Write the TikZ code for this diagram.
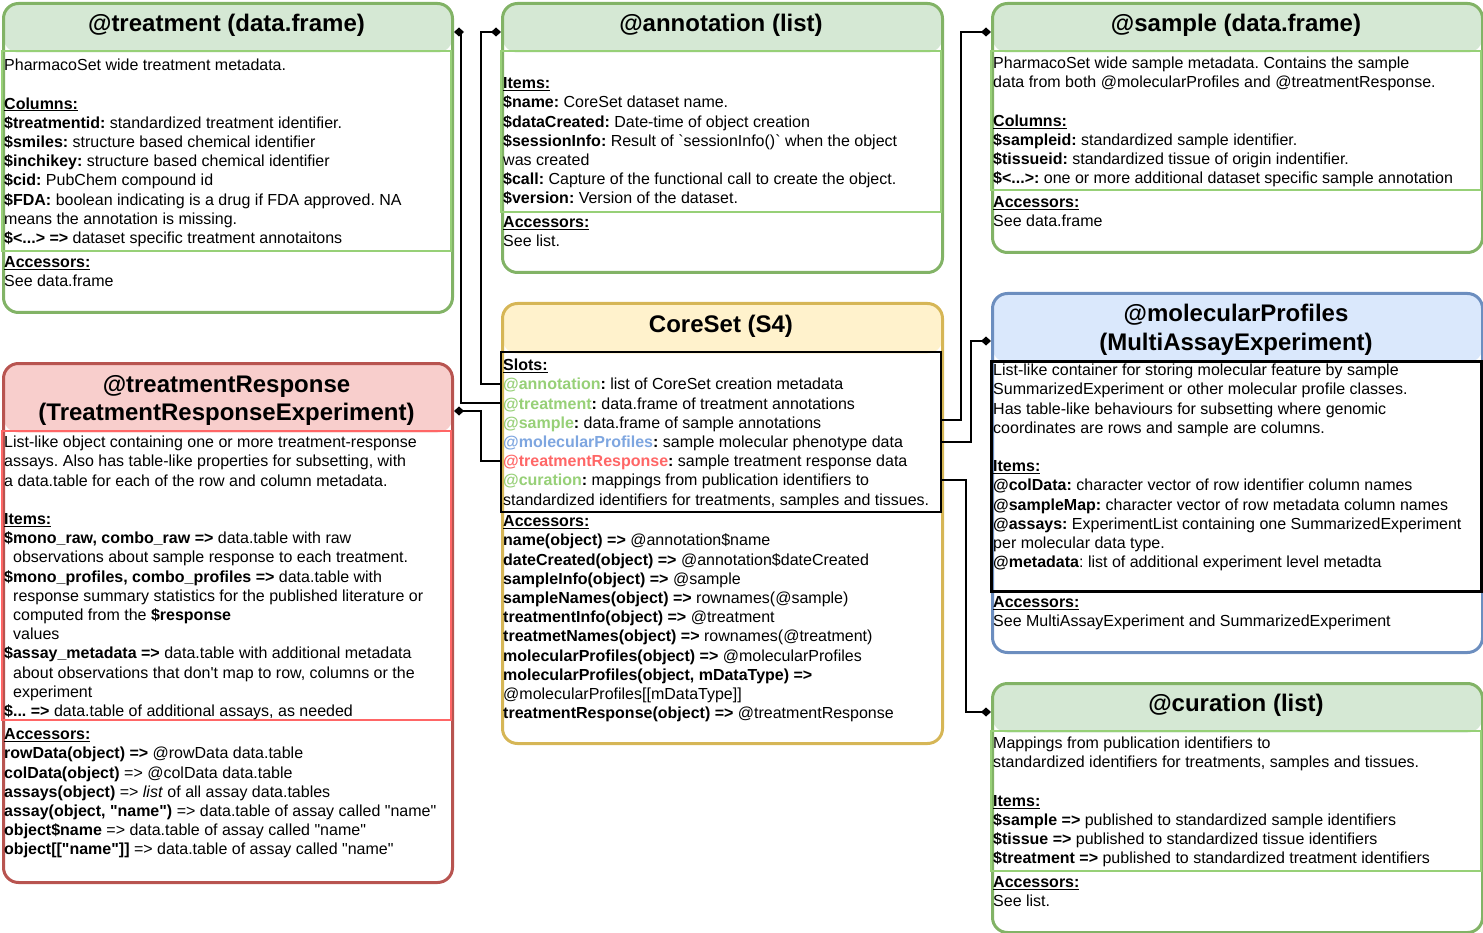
\documentclass[tikz,border=0pt]{standalone}
\usepackage{fontspec}
\setmainfont{Liberation Sans}
\usetikzlibrary{arrows.meta}
\usetikzlibrary{positioning}
\frenchspacing

\definecolor{greenline}{HTML}{82B366}
\definecolor{greenfill}{HTML}{D5E8D4}
\definecolor{greeninner}{HTML}{97D077}
\definecolor{yellowline}{HTML}{D6B656}
\definecolor{yellowfill}{HTML}{FFF2CC}
\definecolor{redline}{HTML}{B85450}
\definecolor{redfill}{HTML}{F8CECC}
\definecolor{redinner}{HTML}{FF6666}
\definecolor{blueline}{HTML}{6C8EBF}
\definecolor{bluefill}{HTML}{DAE8FC}
\definecolor{slotblue}{HTML}{7EA6E0}

\newcommand{\sect}[1]{\underline{\textbf{#1}}}
\newcommand{\qname}{\textquotedbl name\textquotedbl}

\tikzstyle{classbox} = [draw, rounded corners=15pt, line width=3pt, fill=white, anchor=north west, inner sep=0pt]
\tikzstyle{title}    = [font=\fontsize{24}{28.8}\selectfont\bfseries, align=center]
\tikzstyle{body}     = [anchor=north west, inner sep=0pt, align=left, font=\fontsize{16}{19.2}\selectfont]
\tikzstyle{inner}    = [line width=2.5pt]
\tikzstyle{link}     = [line width=2pt, -{Diamond[length=10pt,width=9pt]}]
\tikzset{header/.style 2 args={path picture={\fill[#1] (path picture bounding box.north west) rectangle ([yshift=-#2]path picture bounding box.north east);}}}

\begin{document}
\begin{tikzpicture}[x=1pt,y=-1pt]
  \useasboundingbox (0,0) rectangle (1483,933);

  % Treatment box
  \node[classbox, draw=greenline, header={greenfill}{49pt}, minimum width=449pt, minimum height=309pt] (treatment) at (2,2) {};
  \draw[inner, greeninner] (2,51) rectangle (451,251);
  \node[title] (treatmentTitle) at (226.5,25) {@treatment (data.frame)};
  \node[body] (treatmentCols) at (4,57) {\strut PharmacoSet wide treatment metadata.\\[19.2pt]
    \sect{Columns:}\\
    \textbf{\$treatmentid:} standardized treatment identifier.\\
    \textbf{\$smiles:} structure based chemical identifier\\
    \textbf{\$inchikey:} structure based chemical identifier\\
    \textbf{\$cid:} PubChem compound id\\
    \textbf{\$FDA:} boolean indicating is a drug if FDA approved. NA\\
    means the annotation is missing.\\
    \textbf{\$<...> =>} dataset specific treatment annotaitons};
  \node[body] (treatmentAcc) at (4,254) {\strut\sect{Accessors:}\\ See data.frame};

  % Annotation box
  \node[classbox, draw=greenline, header={greenfill}{49pt}, minimum width=440pt, minimum height=269pt] (annotation) at (501,2) {};
  \draw[inner, greeninner] (501,51) rectangle (941,212);
  \node[title] (annotationTitle) at (721,25) {@annotation (list)};
  \node[body] (annotationItems) at (503,75) {\strut\sect{Items:}\\
    \textbf{\$name:} CoreSet dataset name.\\
    \textbf{\$dataCreated:} Date-time of object creation\\
    \textbf{\$sessionInfo:} Result of \textasciigrave sessionInfo()\textasciigrave\ when the object\\
    was created\\
    \textbf{\$call:} Capture of the functional call to create the object.\\
    \textbf{\$version:} Version of the dataset.};
  \node[body] (annotationAcc) at (503,214) {\strut\sect{Accessors:}\\ See list.};

  % Sample box
  \node[classbox, draw=greenline, header={greenfill}{49pt}, minimum width=490pt, minimum height=249pt] (sample) at (991,2) {};
  \draw[inner, greeninner] (991,51) rectangle (1481,190);
  \node[title] (sampleTitle) at (1236,25) {@sample (data.frame)};
  \node[body] (sampleCols) at (993,55) {\strut PharmacoSet wide sample metadata. Contains the sample\\
    data from both @molecularProfiles and @treatmentResponse.\\[19.2pt]
    \sect{Columns:}\\
    \textbf{\$sampleid:} standardized sample identifier.\\
    \textbf{\$tissueid:} standardized tissue of origin indentifier.\\
    \textbf{\$<...>:} one or more additional dataset specific sample annotation};
  \node[body] (sampleAcc) at (993,194) {\strut\sect{Accessors:}\\ See data.frame};

  % CoreSet box
  \node[classbox, draw=yellowline, header={yellowfill}{50pt}, minimum width=440pt, minimum height=440pt] (core) at (501,302) {};
  \draw[line width=1.2pt] (501,352) rectangle (941,512);
  \node[title] (coreTitle) at (721,326) {CoreSet (S4)};
  \node[body] (coreSlots) at (503,357) {\strut\sect{Slots:}\\
    \textbf{\textcolor{greeninner}{@annotation}:} list of CoreSet creation metadata\\
    \textbf{\textcolor{greeninner}{@treatment}:} data.frame of treatment annotations\\
    \textbf{\textcolor{greeninner}{@sample}:} data.frame of sample annotations\\
    \textbf{\textcolor{slotblue}{@molecularProfiles}:} sample molecular phenotype data\\
    \textbf{\textcolor{redinner}{@treatmentResponse}:} sample treatment response data\\
    \textbf{\textcolor{greeninner}{@curation}:} mappings from publication identifiers to\\
    standardized identifiers for treatments, samples and tissues.};
  \node[body] (coreAcc) at (503,513) {\strut\sect{Accessors:}\\
    \textbf{name(object) =>} @annotation\$name\\
    \textbf{dateCreated(object) =>} @annotation\$dateCreated\\
    \textbf{sampleInfo(object) =>} @sample\\
    \textbf{sampleNames(object) =>} rownames(@sample)\\
    \textbf{treatmentInfo(object) =>} @treatment\\
    \textbf{treatmetNames(object) =>} rownames(@treatment)\\
    \textbf{molecularProfiles(object) =>} @molecularProfiles\\
    \textbf{molecularProfiles(object, mDataType) =>}\\
    @molecularProfiles[[mDataType]]\\
    \textbf{treatmentResponse(object) =>} @treatmentResponse};
  \coordinate (slotAnnotation) at (501,384);
  \coordinate (slotTreatment) at (501,403);
  \coordinate (slotSample) at (941,420);
  \coordinate (slotProfiles) at (941,442);
  \coordinate (slotResponse) at (501,461);
  \coordinate (slotCuration) at (941,480);

  % Treatment response box
  \node[classbox, draw=redline, header={redfill}{69pt}, minimum width=449pt, minimum height=519pt] (response) at (2,362) {};
  \draw[inner, redinner] (2,431) rectangle (451,720);
  \node[title] (responseTitle) at (226.5,400.5) {@treatmentResponse\\(TreatmentResponseExperiment)};
  \node[body] (responseItems) at (4,434) {\strut List-like object containing one or more treatment-response\\
    assays. Also has table-like properties for subsetting, with\\
    a data.table for each of the row and column metadata.\\[19.2pt]
    \sect{Items:}\\
    \textbf{\$mono\_raw, combo\_raw =>} data.table with raw\\
    \hspace*{9pt}observations about sample response to each treatment.\\
    \textbf{\$mono\_profiles, combo\_profiles =>} data.table with\\
    \hspace*{9pt}response summary statistics for the published literature or\\
    \hspace*{9pt}computed from the \textbf{\$response}\\
    \hspace*{9pt}values\\
    \textbf{\$assay\_metadata =>} data.table with additional metadata\\
    \hspace*{9pt}about observations that don\textquotesingle t map to row, columns or the\\
    \hspace*{9pt}experiment\\
    \textbf{\$... =>} data.table of additional assays, as needed};
  \node[body] (responseAcc) at (4,726) {\strut\sect{Accessors:}\\
    \textbf{rowData(object) =>} @rowData data.table\\
    \textbf{colData(object)} => @colData data.table\\
    \textbf{assays(object)} => \textit{list} of all assay data.tables\\
    \textbf{assay(object, \qname)} => data.table of assay called \qname\\
    \textbf{object\$name} => data.table of assay called \qname\\
    \textbf{object[[\qname]]} => data.table of assay called \qname};

  % Molecular profiles box
  \node[classbox, draw=blueline, header={bluefill}{69pt}, minimum width=490pt, minimum height=359pt] (profiles) at (991,292) {};
  \draw[line width=3pt] (991,361) rectangle (1481,591);
  \node[title] (profilesTitle) at (1236,330) {@molecularProfiles\\(MultiAssayExperiment)};
  \node[body] (profilesItems) at (993,362) {\strut List-like container for storing molecular feature by sample\\
    SummarizedExperiment or other molecular profile classes.\\
    Has table-like behaviours for subsetting where genomic\\
    coordinates are rows and sample are columns.\\[19.2pt]
    \sect{Items:}\\
    \textbf{@colData:} character vector of row identifier column names\\
    \textbf{@sampleMap:} character vector of row metadata column names\\
    \textbf{@assays:} ExperimentList containing one SummarizedExperiment\\
    per molecular data type.\\
    \textbf{@metadata}: list of additional experiment level metadta};
  \node[body] (profilesAcc) at (993,594) {\strut\sect{Accessors:}\\ See MultiAssayExperiment and SummarizedExperiment};

  % Curation box
  \node[classbox, draw=greenline, header={greenfill}{49pt}, minimum width=490pt, minimum height=249pt] (curation) at (991,682) {};
  \draw[inner, greeninner] (991,731) rectangle (1481,871);
  \node[title] (curationTitle) at (1236,705) {@curation (list)};
  \node[body] (curationItems) at (993,735) {\strut Mappings from publication identifiers to\\
    standardized identifiers for treatments, samples and tissues.\\[19.2pt]
    \sect{Items:}\\
    \textbf{\$sample =>} published to standardized sample identifiers\\
    \textbf{\$tissue =>} published to standardized tissue identifiers\\
    \textbf{\$treatment =>} published to standardized treatment identifiers};
  \node[body] (curationAcc) at (993,874) {\strut\sect{Accessors:}\\ See list.};

  % Slot links
  \draw[link] (slotAnnotation) -- ++(-20,0) |- ([yshift=-30pt]annotation.north west);
  \draw[link] (slotTreatment) -- ++(-40,0) |- ([yshift=-30pt]treatment.north east);
  \draw[link] (slotResponse) -- ++(-20,0) |- ([yshift=-49pt]response.north east);
  \draw[link] (slotSample) -- ++(20,0) |- ([yshift=-30pt]sample.north west);
  \draw[link] (slotProfiles) -- ++(30,0) |- ([yshift=-49pt]profiles.north west);
  \draw[link] (slotCuration) -- ++(25,0) |- ([yshift=-30pt]curation.north west);
\end{tikzpicture}
\end{document}
